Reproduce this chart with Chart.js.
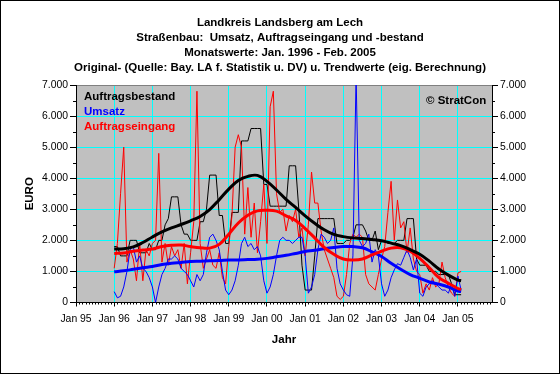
<!DOCTYPE html>
<html>
<head>
<meta charset="utf-8">
<script src="https://cdn.jsdelivr.net/npm/chart.js@4/dist/chart.umd.min.js"></script>
<style>
  html, body { margin: 0; padding: 0; background: #fff; }
  #wrap { width: 560px; height: 374px; }
</style>
</head>
<body>
<div id="wrap"><canvas id="chart" width="560" height="374"></canvas></div>
<script>
// x values are months counted from Jan 95
const yearLabels = ['Jan 95', 'Jan 96', 'Jan 97', 'Jan 98', 'Jan 99', 'Jan 00',
                    'Jan 01', 'Jan 02', 'Jan 03', 'Jan 04', 'Jan 05'];
const firstMonth = 12; // Jan 96

// Monatswerte Jan 1996 - Feb 2005
const auftragsbestand = [
  1800, 1800, 1500, 1500, 1500, 2000, 2000, 2000, 1600, 1600, 1600, 1900,
  1700, 1700, 2000, 2000, 2500, 2700, 3400, 3400, 3400, 2500, 2200, 2200,
  2000, 2000, 2000, 2600, 2600, 3000, 4100, 4100, 4100, 2800, 2800, 1900,
  1900, 2900, 2900, 2900, 5200, 5200, 5200, 5600, 5600, 5600, 5600, 3800,
  3800, 3100, 3100, 3100, 3100, 3100, 3100, 4400, 4400, 4400, 3000, 1200,
  400, 400, 400, 1500, 2700, 2700, 2700, 2700, 2700, 2700, 1900, 1900,
  1900, 2000, 2000, 2100, 2500, 2500, 2500, 2300, 2000, 2000, 2300, 1700,
  2000, 2000, 1900, 1900, 1900, 2000, 2000, 2000, 2700, 2700, 2700, 1400,
  1200, 1200, 1200, 1000, 1000, 1000, 900, 900, 900, 900, 600, 250,
  250, 250
];
const umsatz = [
  350, 150, 200, 500, 1000, 1700, 1800, 1300, 1500, 1100, 1000, 800,
  500, 0, 500, 900, 1100, 1400, 1400, 1500, 1400, 1100, 1000, 900,
  700, 500, 900, 700, 900, 1600, 2100, 2200, 2000, 1700, 1000, 400,
  250, 400, 700, 1200, 1900, 2100, 1800, 1900, 1700, 1800, 1500, 700,
  300, 500, 900, 1500, 2000, 2100, 2000, 2000, 1900, 2000, 2100, 2100,
  1500, 300, 500, 900, 1700, 2200, 2100, 1900, 2000, 2400, 1100, 600,
  400, 250, 200, 1500, 7300, 2000, 1800, 1900, 2200, 1300, 1700, 1500,
  600, 200, 400, 800, 1050, 1250, 1200, 1450, 1700, 1450, 1050, 1400,
  300, 200, 500, 600, 700, 600, 500, 400, 400, 300, 600, 200,
  850, 400
];
const auftragseingang = [
  1100, 1900, 3500, 5000, 1300, 1700, 1400, 700, 1900, 700, 1700, 1500,
  1900, 2000, 4800, 1300, 1900, 1200, 1800, 1500, 1700, 1100, 1900, 600,
  1600, 2600, 6800, 1900, 1100, 1400, 1700, 1200, 1100, 1600, 800, 600,
  1800, 2800, 5000, 5400, 5000, 2200, 3700, 2100, 3200, 1600, 2600, 3800,
  1900, 6300, 6800, 3500, 2900, 3000, 2300, 2800, 2600, 3000, 2100, 2400,
  1500, 2500, 4200, 3200, 3200, 2300, 1700, 1400, 1100, 800, 200, 100,
  200, 900, 1900, 2200, 2100, 2200, 2100, 900, 600, 500, 400, 900,
  1400, 1800, 2900, 3900, 2000, 3300, 2400, 2600, 1600, 2400, 1400, 1000,
  900, 300, 600, 400, 800, 500, 600, 1300, 800, 500, 300, 200,
  950, 1000
];

// Trendwerte (quarterly readings)
const trendMonths = [12, 15, 18, 21, 24, 27, 30, 33, 36, 39, 42, 45, 48, 51, 54, 57, 60, 63, 66,
                     69, 72, 75, 78, 81, 84, 87, 90, 93, 96, 99, 102, 105, 108, 111, 114, 117, 120, 121];
const bestandTrend = [1720, 1730, 1790, 1930, 2110, 2270, 2400, 2510, 2630, 2770, 2990, 3310,
                      3650, 3930, 4060, 4090, 3900, 3620, 3320, 3060, 2790, 2550, 2340, 2190,
                      2120, 2080, 2060, 2030, 1990, 1910, 1830, 1700, 1550, 1330, 1080, 880, 720, 700];
const umsatzTrend = [990, 1020, 1070, 1120, 1160, 1220, 1260, 1290, 1320, 1330, 1340, 1350,
                     1370, 1370, 1380, 1390, 1420, 1470, 1520, 1580, 1640, 1680, 1730, 1770,
                     1800, 1800, 1760, 1630, 1480, 1260, 1070, 900, 780, 660, 590, 500, 370, 350];
const eingangTrend = [1580, 1590, 1650, 1690, 1720, 1800, 1840, 1850, 1800, 1760, 1750, 1870,
                      2200, 2560, 2810, 2950, 2970, 2940, 2790, 2640, 2380, 2080, 1770, 1550,
                      1400, 1370, 1400, 1530, 1650, 1750, 1760, 1650, 1420, 1120, 800, 620, 450, 420];

const FONT = "'Liberation Sans', Arial, sans-serif";
const tickFont = { family: FONT, size: 10.4 };
const boldFont = { family: FONT, size: 11.5, weight: 'bold' };

const monthly = arr => arr.map((v, i) => ({ x: firstMonth + i, y: v }));
const trend = arr => arr.map((v, i) => ({ x: trendMonths[i], y: v }));
const fmt = v => String(v).replace(/(\d)(?=(\d{3})+$)/g, '$1.');

const decor = {
  id: 'decor',
  beforeDraw(chart) {
    const { ctx, chartArea: a } = chart;
    ctx.save();
    ctx.fillStyle = '#fff';
    ctx.fillRect(0, 0, chart.width, chart.height);
    ctx.fillStyle = '#C0C0C0';
    ctx.fillRect(a.left, a.top, a.right - a.left, a.bottom - a.top);
    ctx.restore();
  },
  afterDraw(chart) {
    const { ctx, chartArea: a, scales } = chart;
    ctx.save();
    ctx.strokeStyle = '#000';
    ctx.lineWidth = 1;
    ctx.beginPath();
    // minor ticks
    for (let v = 500; v < 7000; v += 1000) {
      const y = Math.round(scales.y.getPixelForValue(v)) + 0.5;
      ctx.moveTo(a.left - 3, y); ctx.lineTo(a.left, y);
      ctx.moveTo(a.right, y); ctx.lineTo(a.right + 3, y);
    }
    for (let m = 1; m <= 130; m++) {
      if (m % 12 === 0) continue;
      const x = Math.round(scales.x.getPixelForValue(m)) + 0.5;
      ctx.moveTo(x, a.bottom); ctx.lineTo(x, a.bottom + 2);
    }
    ctx.stroke();

    // legend inside the plot
    ctx.font = 'bold 11.5px ' + FONT;
    ctx.textBaseline = 'middle';
    ctx.textAlign = 'left';
    const items = [['Auftragsbestand', '#000000'], ['Umsatz', '#0000FF'], ['Auftragseingang', '#FF0000']];
    items.forEach(([t, c], i) => {
      ctx.fillStyle = c;
      ctx.fillText(t, a.left + 8, a.top + 11.5 + i * 15);
    });
    ctx.fillStyle = '#000';
    ctx.fillText('\u00A9 StratCon', 426, 101);

    // outer frame
    ctx.strokeRect(0.5, 0.5, chart.width - 1, chart.height - 1);
    ctx.restore();
  }
};

new Chart(document.getElementById('chart'), {
  type: 'line',
  data: {
    datasets: [
      { label: 'Auftragsbestand Trend', data: trend(bestandTrend), borderColor: '#000000', borderWidth: 3, tension: 0.4, order: 0 },
      { label: 'Auftragseingang Trend', data: trend(eingangTrend), borderColor: '#FF0000', borderWidth: 3, tension: 0.4, order: 1 },
      { label: 'Umsatz Trend', data: trend(umsatzTrend), borderColor: '#0000FF', borderWidth: 3, tension: 0.4, order: 2 },
      { label: 'Umsatz', data: monthly(umsatz), borderColor: '#0000FF', borderWidth: 1, order: 3 },
      { label: 'Auftragseingang', data: monthly(auftragseingang), borderColor: '#FF0000', borderWidth: 1, order: 4 },
      { label: 'Auftragsbestand', data: monthly(auftragsbestand), borderColor: '#000000', borderWidth: 1, order: 5 }
    ]
  },
  options: {
    responsive: false,
    devicePixelRatio: 1,
    animation: false,
    layout: { padding: 0 },
    elements: { point: { radius: 0 }, line: { tension: 0, fill: false } },
    datasets: { line: { clip: 0 } },
    plugins: {
      legend: { display: false },
      tooltip: { enabled: false },
      title: {
        display: true,
        text: ['Landkreis Landsberg am Lech',
               'Straßenbau:  Umsatz, Auftragseingang und -bestand',
               'Monatswerte: Jan. 1996 - Feb. 2005',
               'Original- (Quelle: Bay. LA f. Statistik u. DV) u. Trendwerte (eig. Berechnung)'],
        color: '#000',
        font: { family: FONT, size: 11.5, weight: 'bold', lineHeight: '15px' },
        padding: { top: 15, bottom: 10 }
      }
    },
    scales: {
      x: {
        type: 'linear', min: 0, max: 130.7,
        afterBuildTicks: s => { s.ticks = yearLabels.map((_, i) => ({ value: i * 12 })); },
        afterFit: s => { s.height = 71.5; },
        ticks: { callback: v => yearLabels[Math.round(v / 12)], color: '#000', font: tickFont,
                 padding: 6, maxRotation: 0, autoSkip: false },
        grid: { color: c => (c.tick && c.tick.value === 0 ? 'rgba(0,0,0,0)' : '#00FFFF'),
                tickColor: '#000', tickLength: 4 },
        border: { color: '#000', width: 1 },
        title: { display: true, text: 'Jahr', color: '#000', font: boldFont, padding: { top: 0, bottom: 27 } }
      },
      y: {
        position: 'left', min: 0, max: 7000,
        afterFit: s => { s.width = 76; },
        ticks: { stepSize: 1000, callback: fmt, color: '#000', font: tickFont, padding: 2 },
        grid: { color: c => (c.tick && c.tick.value === 7000 ? '#808080' : (c.tick && c.tick.value === 0 ? 'rgba(0,0,0,0)' : '#00FFFF')),
                tickColor: '#000', tickLength: 6 },
        border: { color: '#000', width: 1 },
        title: { display: true, text: 'EURO', color: '#000', font: boldFont, padding: { top: 23, bottom: 0 } }
      },
      y2: {
        position: 'right', min: 0, max: 7000,
        afterFit: s => { s.width = 68; },
        ticks: { stepSize: 1000, callback: fmt, color: '#000', font: tickFont, padding: 2 },
        grid: { drawOnChartArea: false, tickColor: '#000', tickLength: 6 },
        border: { color: '#000', width: 1 }
      }
    }
  },
  plugins: [decor]
});
</script>
</body>
</html>
